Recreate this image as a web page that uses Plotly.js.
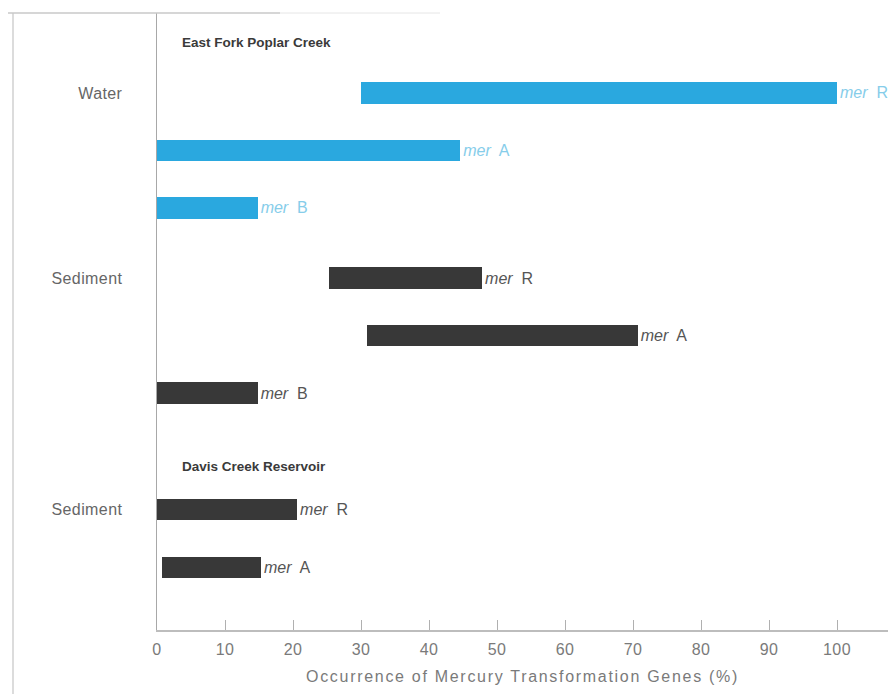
<!DOCTYPE html>
<html>
<head>
<meta charset="utf-8">
<script src="https://cdn.plot.ly/plotly-3.0.1.min.js"></script>
<style>
  html, body { margin: 0; padding: 0; background: #ffffff; }
  #chart { width: 892px; height: 694px; }
  #chart .xtitle { letter-spacing: 1.7px; }
  #chart .ytick text, #chart .xtick text { letter-spacing: 0.4px; }
</style>
</head>
<body>
<div id="chart"></div>
<script>
// Occurrence ranges (%) of mercury transformation genes by site and medium
const sites  = ['East Fork Poplar Creek', 'East Fork Poplar Creek', 'East Fork Poplar Creek',
                'East Fork Poplar Creek', 'East Fork Poplar Creek', 'East Fork Poplar Creek',
                'Davis Creek Reservoir', 'Davis Creek Reservoir'];
const media  = ['Water', 'Water', 'Water', 'Sediment', 'Sediment', 'Sediment', 'Sediment', 'Sediment'];
const genes  = ['R', 'A', 'B', 'R', 'A', 'B', 'R', 'A'];
const starts = [30, 0, 0, 25.3, 30.9, 0, 0, 0.8];
const ends   = [100, 44.6, 14.8, 47.8, 70.7, 14.8, 20.6, 15.3];
const xTicks = [0, 10, 20, 30, 40, 50, 60, 70, 80, 90, 100];

// Layout spacing (in row units) between groups
const MEDIUM_GAP = 0.22;
const SITE_GAP = 1.03;

const rowPos = [];
let pos = 0;
for (let i = 0; i < genes.length; i++) {
  if (i > 0) {
    pos += 1;
    if (sites[i] !== sites[i - 1]) pos += SITE_GAP;
    else if (media[i] !== media[i - 1]) pos += MEDIUM_GAP;
  }
  rowPos.push(pos);
}

const FONT = 'Liberation Sans, Arial, Helvetica, sans-serif';
const mediumColor = { Water: '#2aa8df', Sediment: '#383838' };
const labelColor  = { Water: '#86cdea', Sediment: '#555555' };

const trace = {
  type: 'bar',
  orientation: 'h',
  y: rowPos,
  base: starts,
  x: ends.map((e, i) => e - starts[i]),
  width: 0.37,
  marker: { color: media.map(m => mediumColor[m]), line: { width: 0 } },
  text: genes.map(g => '<i>mer</i>&nbsp; ' + g),
  textposition: 'outside',
  constraintext: 'none',
  cliponaxis: false,
  textfont: { family: FONT, size: 16, color: media.map(m => labelColor[m]) },
  hoverinfo: 'skip'
};

// Medium labels on the y axis: first row of each site/medium section
const tickVals = [], tickText = [];
for (let i = 0; i < genes.length; i++) {
  if (i === 0 || media[i] !== media[i - 1] || sites[i] !== sites[i - 1]) {
    tickVals.push(rowPos[i]);
    tickText.push(media[i]);
  }
}

// Site headings above each site's first row
const annotations = [];
let siteCount = 0;
for (let i = 0; i < genes.length; i++) {
  if (i === 0 || sites[i] !== sites[i - 1]) {
    annotations.push({
      x: 3.4, y: rowPos[i] - (siteCount === 0 ? 0.87 : 0.76), xref: 'x', yref: 'y',
      text: '<b>' + sites[i] + '</b>', showarrow: false,
      xanchor: 'left', yanchor: 'middle',
      font: { family: FONT, size: 13.5, color: '#3a3a3a' }
    });
    siteCount++;
  }
}

const ml = 157, mr = 4, mt = 13, mb = 64;
const W = 892, H = 694;
const pw = W - ml - mr, ph = H - mt - mb;
const px2x = px => (px - ml) / pw;
const px2y = py => 1 - (py - mt) / ph;

// Partial outer frame
const shapes = [
  { type: 'line', xref: 'paper', yref: 'paper', x0: px2x(13), x1: px2x(13), y0: px2y(13), y1: px2y(694),
    line: { color: '#d0d0d0', width: 1.5 } },
  { type: 'line', xref: 'paper', yref: 'paper', x0: px2x(8), x1: px2x(280), y0: px2y(13), y1: px2y(13),
    line: { color: '#c8c8c8', width: 1.5 } },
  { type: 'line', xref: 'paper', yref: 'paper', x0: px2x(280), x1: px2x(440), y0: px2y(13), y1: px2y(13),
    line: { color: '#e6e6e6', width: 1 } }
];

const layout = {
  width: W, height: H,
  margin: { l: ml, r: mr, t: mt, b: mb, pad: 0 },
  paper_bgcolor: '#ffffff', plot_bgcolor: '#ffffff',
  showlegend: false,
  font: { family: FONT, size: 16, color: '#666666' },
  bargap: 0,
  xaxis: {
    range: [0, 107.5], autorange: false,
    tickvals: xTicks, ticktext: xTicks.map(String),
    ticks: 'inside', ticklen: 10, tickcolor: '#b0b0b0', tickwidth: 1,
    ticklabelstandoff: 4,
    showline: true, linecolor: '#bdbdbd', linewidth: 1.5,
    showgrid: false, zeroline: false,
    tickfont: { family: FONT, size: 16, color: '#7a7a7a' },
    title: { text: 'Occurrence of Mercury Transformation Genes (%)', standoff: 14,
             font: { family: FONT, size: 16, color: '#7a7a7a' } }
  },
  yaxis: {
    range: [9.34, -1.39], autorange: false,
    tickvals: tickVals, ticktext: tickText,
    ticks: '', ticklabelstandoff: 30,
    showline: true, linecolor: '#a8a8a8', linewidth: 1.5,
    showgrid: false, zeroline: false,
    tickfont: { family: FONT, size: 16, color: '#666666' }
  },
  annotations: annotations,
  shapes: shapes
};

Plotly.newPlot('chart', [trace], layout, { staticPlot: true, displayModeBar: false });
</script>
</body>
</html>
